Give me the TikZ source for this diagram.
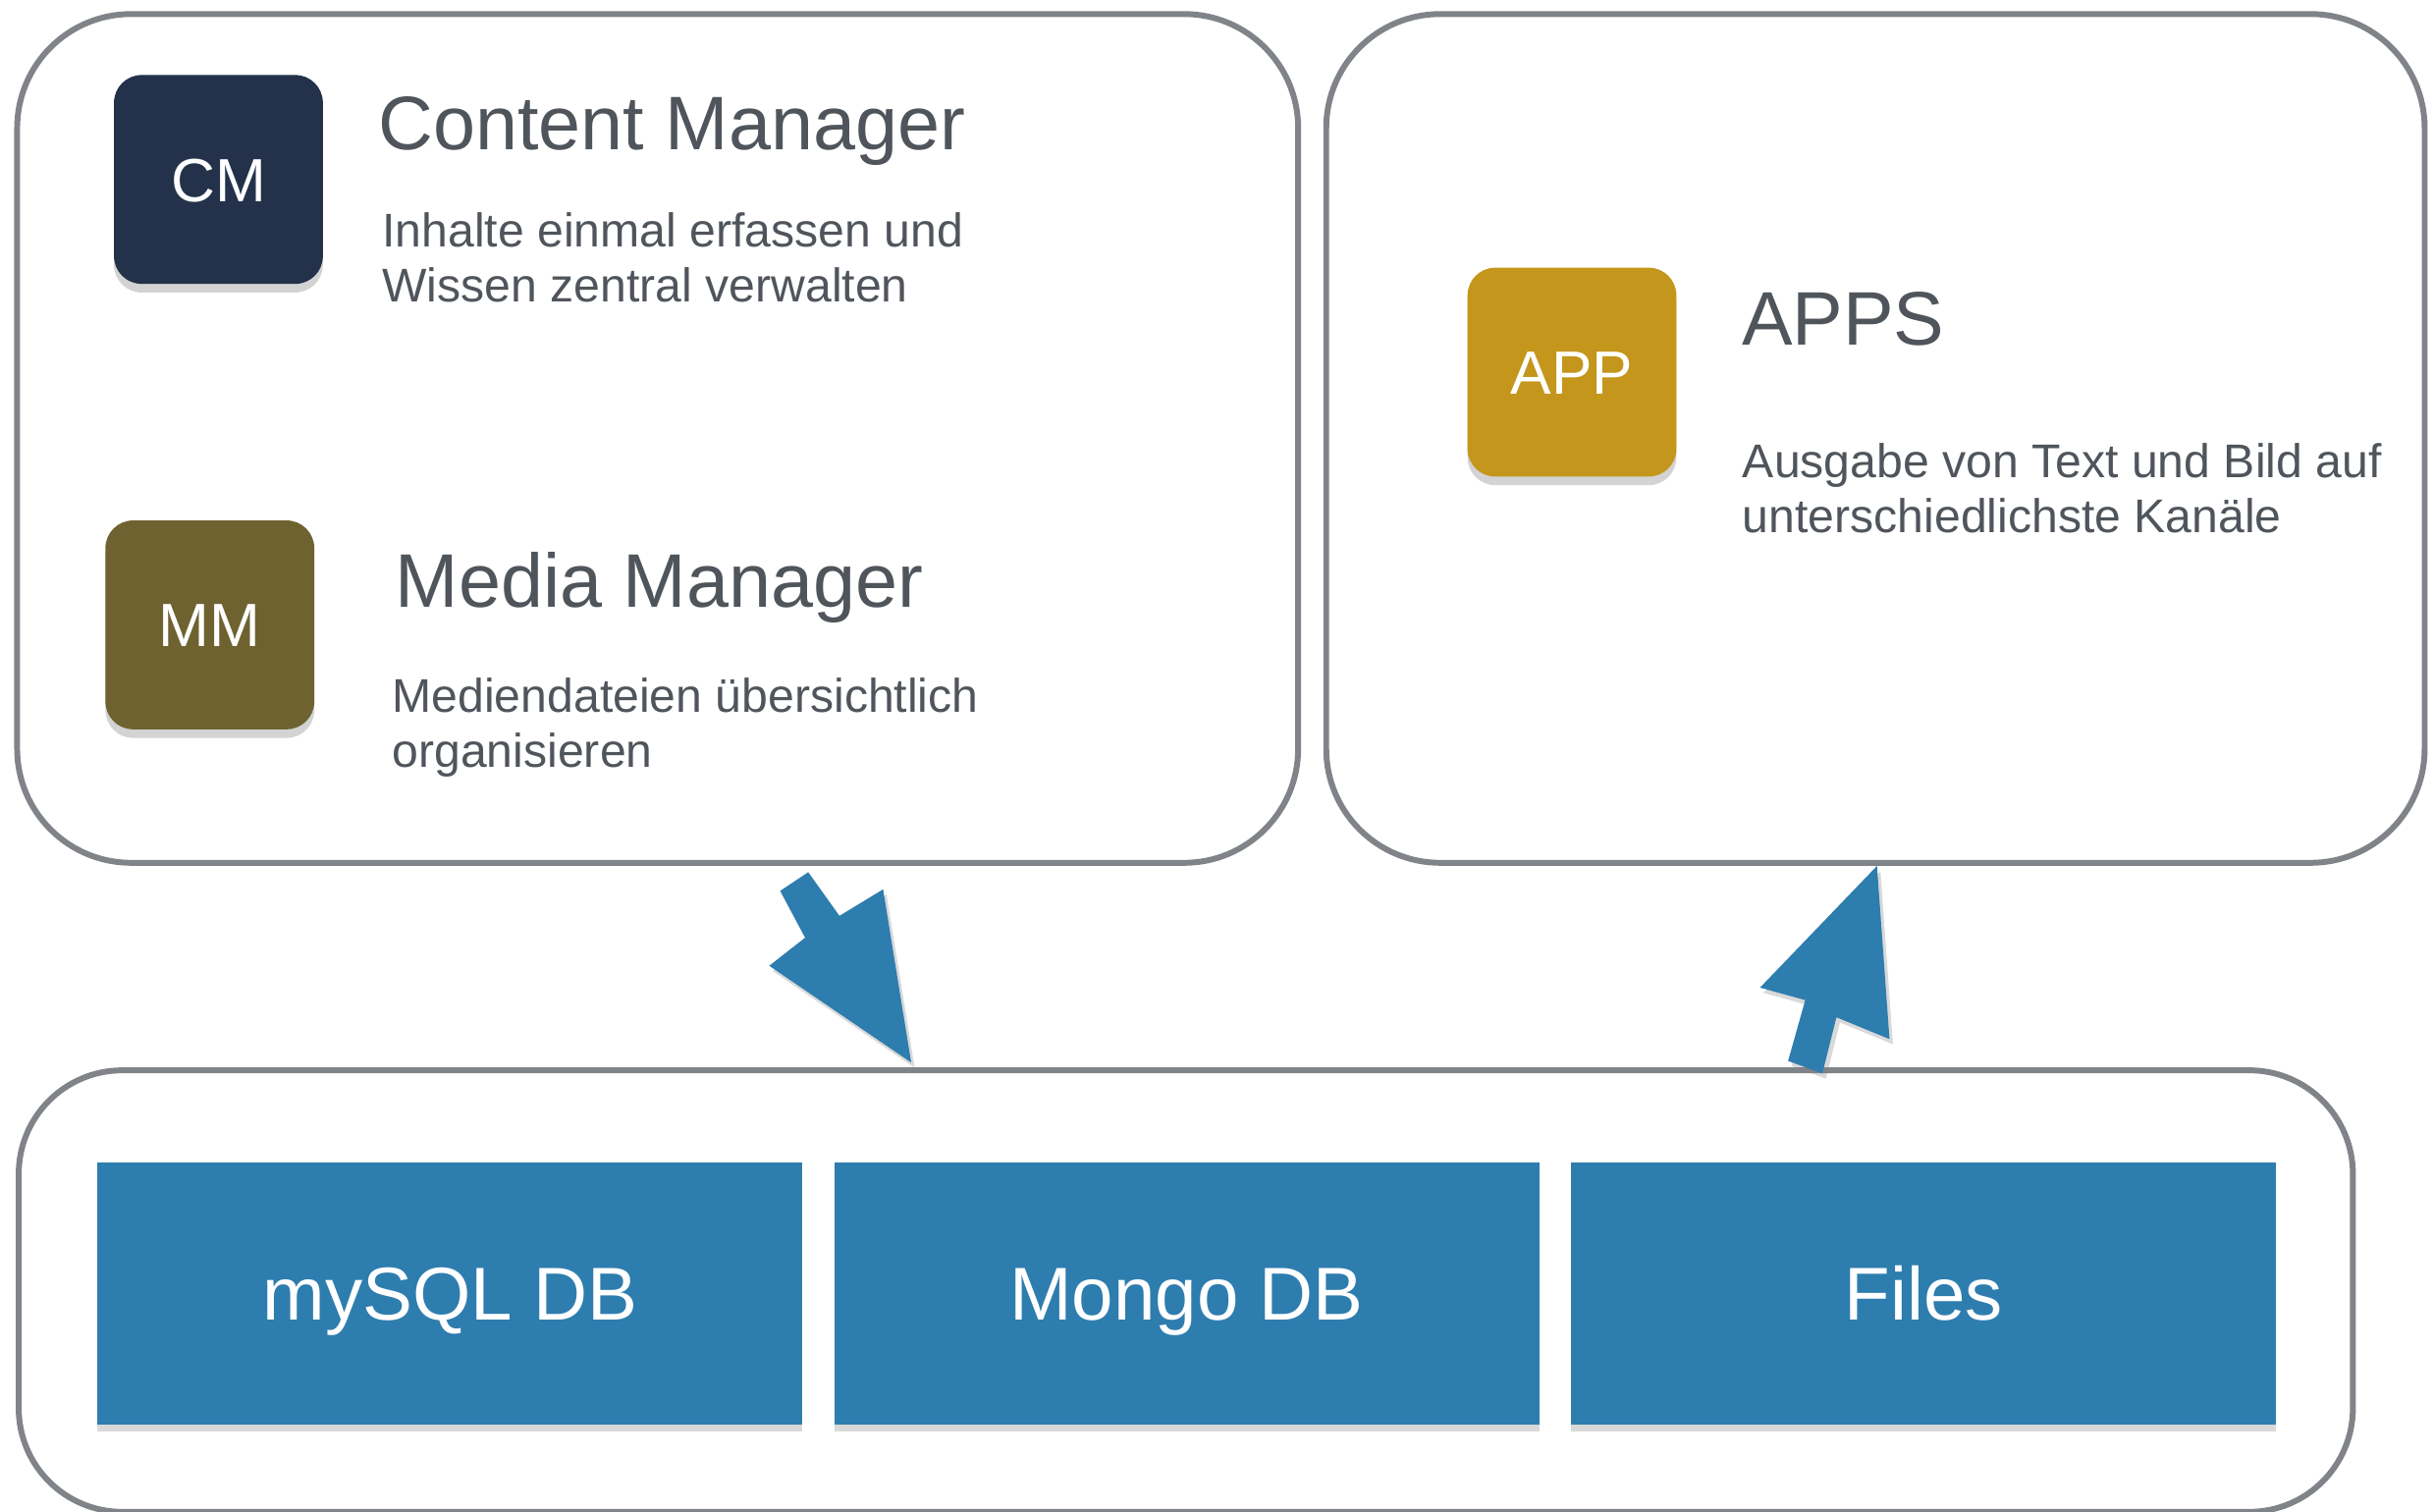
\documentclass[tikz,border=0pt]{standalone}
\usepackage{fontspec}
\setmainfont{Liberation Sans}
\usetikzlibrary{shadows}
\definecolor{framegray}{RGB}{128,131,136}
\definecolor{txtgray}{RGB}{80,85,92}
\definecolor{cmblue}{RGB}{35,50,74}
\definecolor{mmolive}{RGB}{110,99,48}
\definecolor{appgold}{RGB}{196,150,28}
\definecolor{dbblue}{RGB}{46,125,175}
\begin{document}
\begin{tikzpicture}[x=0.01589cm,y=-0.01589cm,
  frame/.style={draw=framegray,line width=1.7pt,rounded corners=#1},
  frame/.default=33pt,
  icon/.style={fill=#1,rounded corners=8pt,inner sep=0pt,
    minimum width=60.5pt,minimum height=60.5pt,text=white,
    text height=12.7pt,text depth=0pt,
    font=\fontsize{17.7}{20}\selectfont,
    drop shadow={shadow xshift=0pt,shadow yshift=-2.5pt,opacity=0.35}},
  title/.style={anchor=base west,inner sep=0pt,text=txtgray,font=\fontsize{22}{26}\selectfont},
  desc/.style={anchor=base west,inner sep=0pt,text=txtgray,align=left,font=\fontsize{13.7}{15.9}\selectfont},
  dbbox/.style={fill=dbblue,inner sep=0pt,minimum width=204.2pt,minimum height=75.9pt,
    text=white,text height=15.5pt,text depth=0pt,font=\fontsize{21.7}{24}\selectfont,
    drop shadow={shadow xshift=0pt,shadow yshift=-2pt,opacity=0.3}},
  blockarrow/.style={fill=dbblue,drop shadow={shadow xshift=1pt,shadow yshift=-1.5pt,opacity=0.3}}
]
\useasboundingbox (0,0) rectangle (1560,968.5);

% frames
\draw[frame] (11,9) rectangle (832,553);
\draw[frame] (850,9) rectangle (1554,553);
\draw[frame=30pt] (12,686) rectangle (1508,969);

% icons
\node[icon=cmblue] (cm) at (140,115) {CM};
\node[icon=mmolive] (mm) at (134.5,400.5) {MM};
\node[icon=appgold] (app) at (1007.5,238.5) {APP};

% texts
\node[title] (cmt) at (242,96) {Content Manager};
\node[desc] (cmd) at (244.6,193.3) {Inhalte einmal erfassen und\\Wissen zentral verwalten};
\node[title] (mmt) at (253,389) {Media Manager};
\node[desc] (mmd) at (251,491.5) {Mediendateien übersichtlich\\organisieren};
\node[title] (appt) at (1116,221) {APPS};
\node[desc] (appd) at (1116.5,341.4) {Ausgabe von Text und Bild auf\\unterschiedlichste Kanäle};

% storage boxes
\node[dbbox] (mysql) at (288.5,829) {mySQL DB};
\node[dbbox] (mongo) at (760.5,829) {Mongo DB};
\node[dbbox] (files) at (1233,829) {Files};

% block arrows
\coordinate (la1) at (500,571);
\coordinate (la2) at (518,559);
\coordinate (la3) at (538,587);
\coordinate (la4) at (566,570);
\coordinate (la5) at (584,681);
\coordinate (la6) at (493,619);
\coordinate (la7) at (516,601);
\fill[blockarrow] (la1) -- (la2) -- (la3) -- (la4) -- (la5) -- (la6) -- (la7) -- cycle;

\coordinate (ra1) at (1203,555);
\coordinate (ra2) at (1211,666);
\coordinate (ra3) at (1177,652);
\coordinate (ra4) at (1168,688);
\coordinate (ra5) at (1146,680);
\coordinate (ra6) at (1157,641);
\coordinate (ra7) at (1128,633);
\fill[blockarrow] (ra1) -- (ra2) -- (ra3) -- (ra4) -- (ra5) -- (ra6) -- (ra7) -- cycle;
\end{tikzpicture}
\end{document}
